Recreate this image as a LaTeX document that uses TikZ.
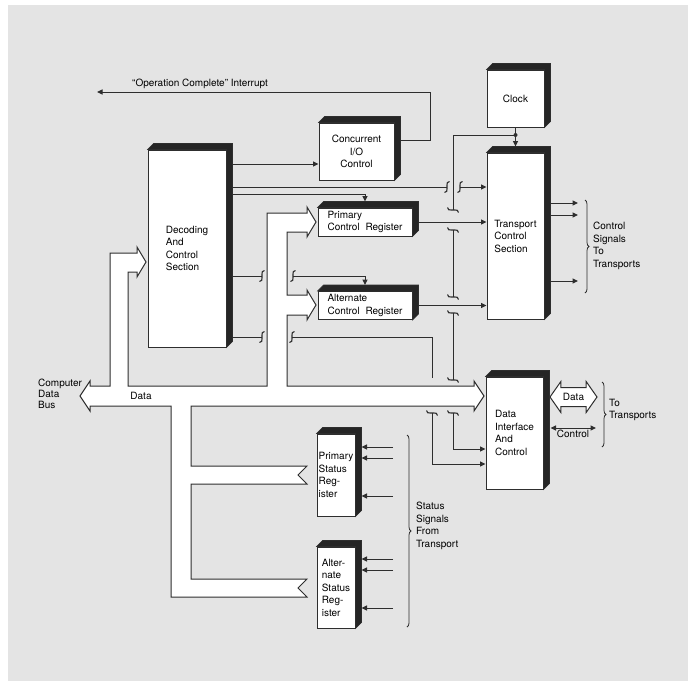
\documentclass[tikz,border=0pt]{standalone}
\usepackage{fontspec}
\setmainfont{TeX Gyre Heros}
\usetikzlibrary{arrows.meta,shapes.arrows,decorations.pathreplacing,calc}
\definecolor{ink}{HTML}{2E2E2E}
\definecolor{paper}{HTML}{E4E4E4}

\begin{document}
\begin{tikzpicture}[x=1pt, y=-1pt,
  wire/.style={draw=ink, line width=1pt},
  arr/.style={wire, -{Triangle[length=5.5pt, width=5pt]}},
  blk/.style={rectangle, draw=ink, line width=1pt, fill=white, align=left, inner sep=0pt, font=\fontsize{10}{12.5}\selectfont},
  lbl/.style={align=left, inner sep=0pt, font=\fontsize{10}{12.5}\selectfont},
  rim/.style={fill=ink!80!black, draw=ink, line width=0.6pt},
  curly/.style={draw=ink, line width=0.8pt, decorate, decoration={brace, amplitude=4pt}},
  brk/.pic={\draw[wire, line width=1.1pt] (2.5,-5.5) .. controls (0,-5.5) and (0,-3.5) .. (0,-2) -- (0,2) .. controls (0,3.5) and (0,5.5) .. (-2.5,5.5);}
]
  \fill[white] (0,0) rectangle (697,681);
  \fill[paper] (8,5) rectangle (688,681);
  \useasboundingbox (0,0) rectangle (697,681);

  % data bus
  \draw[wire, fill=white] (80,396) -- (90,381) -- (90,386) -- (110,386) -- (110,253) -- (137,253) -- (137,247) -- (146,262) -- (137,277) -- (137,272) -- (128,272) -- (128,386)
    -- (267,386) -- (267,213) -- (307,213) -- (307,207) -- (316,222) -- (307,237) -- (307,232) -- (287,232) -- (287,295) -- (307,295) -- (307,290) -- (316,305) -- (307,320) -- (307,315) -- (287,315) -- (287,386)
    -- (474,386) -- (474,381) -- (484,396) -- (474,411) -- (474,406) -- (191,406) -- (191,466) -- (307,466) -- (298,475) -- (307,484) -- (191,484) -- (191,579) -- (307,579) -- (298,588) -- (307,597) -- (171,597) -- (171,406) -- (90,406) -- (90,411) -- cycle;
  \node[lbl] (dlbl) at (141,396) {Data};
  \node[lbl, anchor=west, font=\fontsize{10}{11.2}\selectfont] (cdb) at (38,394) {Computer\\Data\\Bus};

  % blocks
  \node[blk, minimum width=78pt, minimum height=197pt] (dec) at (187,248.5) {Decoding\\And\\Control\\Section};
  \node[blk, minimum width=75pt, minimum height=57pt, align=center] (cio) at (356.5,151.5) {Concurrent\\I/O\\Control};
  \node[blk, minimum width=94pt, minimum height=28pt] (pcr) at (365,222) {Primary\\Control\hspace{3pt} Register};
  \node[blk, minimum width=94pt, minimum height=28pt] (acr) at (365,305.5) {Alternate\\Control\hspace{3pt} Register};
  \node[blk, minimum width=57pt, minimum height=57pt] (clk) at (515.5,98.5) {Clock};
  \node[blk, minimum width=57pt, minimum height=166pt] (tcs) at (515.5,236) {Transport\\Control\\Section};
  \node[blk, minimum width=57pt, minimum height=112pt] (dic) at (514.5,433) {Data\\Interface\\And\\Control};
  \node[blk, minimum width=38pt, minimum height=82pt] (psr) at (336,475) {Primary\\Status\\Reg-\\ister};
  \node[blk, minimum width=38pt, minimum height=81pt] (asr) at (336,587.5) {Alter-\\nate\\Status\\Reg-\\ister};

  \foreach \n in {dec,cio,pcr,acr,clk,tcs,dic,psr,asr}
    \path[rim] (\n.north west) -- ++(6,-6) -- ([shift={(6,-6)}]\n.north east) -- ([shift={(6,-6)}]\n.south east) -- (\n.south east) -- (\n.north east) -- cycle;

  % crossing marks
  \coordinate (ja) at (447,187); \coordinate (jb) at (460,187);
  \coordinate (jc) at (262,276); \coordinate (jd) at (293,276);
  \coordinate (je) at (262,337); \coordinate (jf) at (292,337);
  \coordinate (ka) at (453,210); \coordinate (kb) at (453,230);
  \coordinate (kc) at (453,297); \coordinate (kd) at (453,313);
  \coordinate (ke) at (453,380); \coordinate (kf) at (453,413);
  \coordinate (kg) at (432,378); \coordinate (kh) at (432,413);
  \foreach \c in {ja,jb,jc,jd,je,jf} \pic at (\c) {brk};
  \foreach \c in {ka,kb,kc,kd,ke,kf,kh} \pic[rotate=90] at (\c) {brk};

  % interrupt
  \coordinate (irq) at (97,92);
  \draw[arr] ([xshift=6pt]cio.east |- 0,140) -- (430,140) |- (irq);
  \node[lbl, anchor=west] (irqtxt) at (132,84) {``Operation Complete'' Interrupt};

  % decoding outputs
  \draw[arr] ([xshift=6pt]dec.east |- 0,164) -- (cio.west |- 0,164);
  \draw[wire] ([xshift=6pt]dec.east |- ja) -- (ja);
  \draw[arr] (jb) -- (tcs.west |- jb);
  \draw[arr] ([xshift=6pt]dec.east |- 0,194) -| ([yshift=6pt]pcr.north);
  \draw[wire] ([xshift=6pt]dec.east |- jc) -- (jc);
  \draw[arr] (jd) -| ([yshift=6pt]acr.north);
  \draw[wire] ([xshift=6pt]dec.east |- je) -- (je);
  \draw[wire] (jf) -| (kg);
  \draw[arr] (kh) |- (dic.west |- 0,464);

  % clock
  \draw[arr] (clk.south) -- ([yshift=6pt]tcs.north);
  \coordinate (tap) at (clk.south |- 0,135);
  \fill[ink] (tap) circle (2pt);
  \draw[wire] (tap) -| (ka);
  \draw[wire] (kb) -- (kc);
  \draw[wire] (kd) -- (ke);
  \draw[arr] (kf) |- (dic.west |- 0,449);

  % registers to transport control
  \draw[arr] ([xshift=6pt]pcr.east) -- (tcs.west |- pcr.east);
  \draw[arr] ([xshift=6pt]acr.east) -- (tcs.west |- acr.east);

  % control signals
  \foreach \y [count=\i] in {203,215,281} {
    \coordinate (c\i) at (578,\y);
    \draw[arr] ([xshift=6pt]tcs.east |- c\i) -- (c\i);
  }
  \draw[curly] (585,200) -- (585,293);
  \node[lbl, anchor=west] (ctlsig) at (593,246) {Control\\Signals\\To\\Transports};

  % status signals
  \foreach \y [count=\i] in {447,458,496} {
    \coordinate (p\i) at (393,\y);
    \draw[arr] (p\i) -- ([xshift=6pt]psr.east |- p\i);
  }
  \foreach \y [count=\i] in {559,570,608} {
    \coordinate (q\i) at (393,\y);
    \draw[arr] (q\i) -- ([xshift=6pt]asr.east |- q\i);
  }
  \draw[curly] (407,435) -- (407,627);
  \node[lbl, anchor=west] (stsig) at (416,526) {Status\\Signals\\From\\Transport};

  % to transports
  \node[double arrow, draw=ink, line width=1pt, fill=white, double arrow head extend=6pt, double arrow tip angle=110, minimum height=47pt, text height=7pt, text depth=1pt, inner ysep=5pt, inner xsep=2pt, font=\fontsize{10}{12.5}\selectfont] (dta) at (573.5,397) {Data};
  \coordinate (ctl) at (596,428);
  \draw[wire, {Triangle[length=5.5pt, width=5pt]}-{Triangle[length=5.5pt, width=5pt]}] ([xshift=7pt]dic.east |- ctl) -- (ctl);
  \node[lbl, anchor=north] (ctltxt) at (573,430) {Control};
  \draw[curly] (602,382) -- (602,447);
  \node[lbl, anchor=west] (totr) at (609,410) {To\\Transports};
\end{tikzpicture}
\end{document}
